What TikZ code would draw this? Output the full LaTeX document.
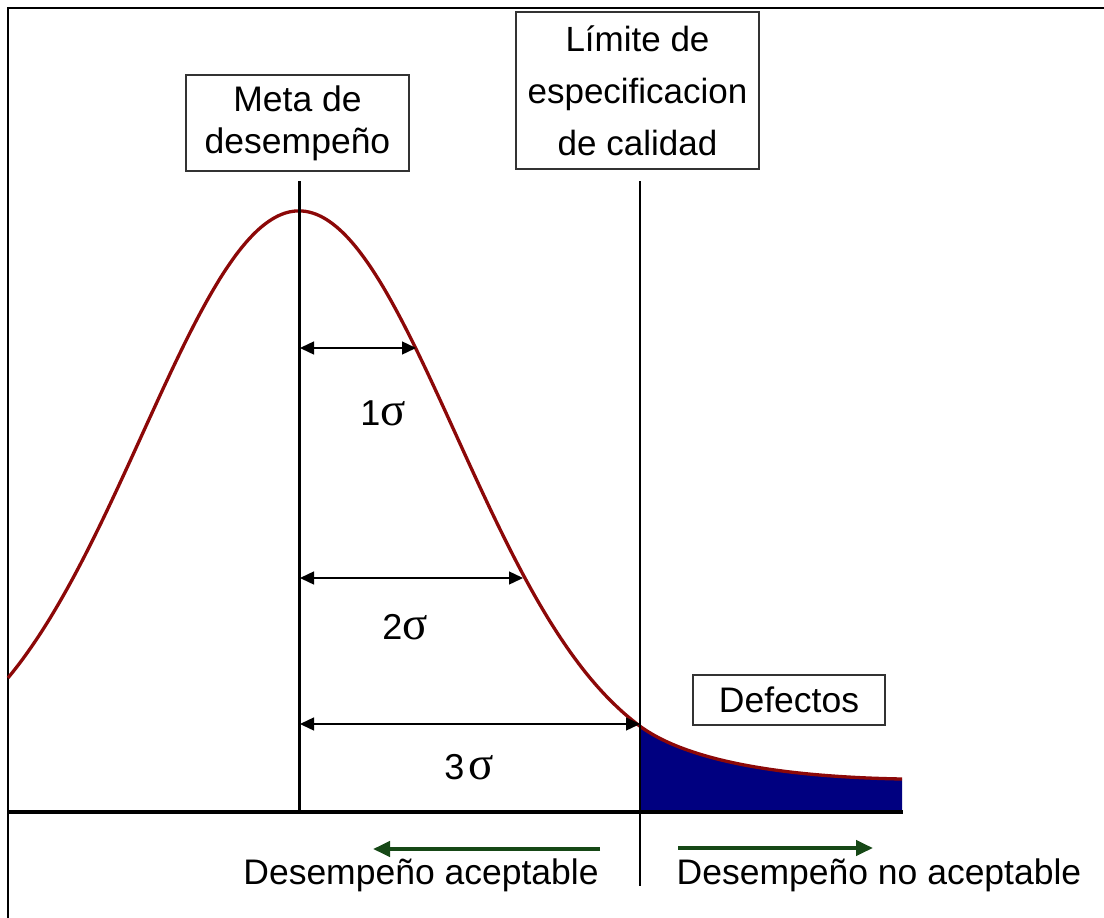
\documentclass[tikz,border=0pt]{standalone}
\usepackage{fontspec}
\setmainfont{Liberation Sans}
\newfontfamily\greekfont{Liberation Serif}
\usetikzlibrary{arrows.meta}
\definecolor{curvered}{RGB}{140,8,8}
\definecolor{defnavy}{RGB}{0,0,128}
\definecolor{arrgreen}{RGB}{22,72,22}
\tikzset{
  labelbox/.style={draw=black!80, line width=1.3pt, fill=white, inner sep=0pt, align=center, font=\fontsize{35.5}{42}\selectfont},
  sigmalabel/.style={anchor=base, inner sep=0pt, font=\fontsize{36}{42}\selectfont},
  dimarrow/.style={line width=1.4pt, {Triangle[length=14pt,width=13pt]}-{Triangle[length=14pt,width=13pt]}},
  bigarrow/.style={arrgreen, line width=4pt, -{Triangle[length=17pt,width=15pt]}},
  bottomtext/.style={anchor=base, inner sep=0pt, font=\fontsize{35.5}{42}\selectfont},
}
\newcommand{\sig}{{\greekfont\fontsize{47}{42}\selectfont σ}}
\begin{document}
\begin{tikzpicture}[x=1pt,y=-1pt]
\useasboundingbox (0,0) rectangle (1104,918);
\fill[white] (0,0) rectangle (1104,918);
% frame (left and top)
\draw[line width=2pt] (8,918) -- (8,8) -- (1104,8);

% defect area
\fill[defnavy] (640,812) -- (640,726) .. controls (690,763) and (790,777) .. (902,779) -- (902,812) -- cycle;

% curve
\draw[curvered, line width=3.3pt, line join=round]
  plot[domain=-1.8535:2.172, samples=120, smooth] ({299+157*\x},{780-569*exp(-0.5*\x*\x)})
  .. controls (690,763) and (790,777) .. (902,779);

% axis
\coordinate (axL) at (8,812);
\coordinate (axR) at (903,812);
\draw[line width=4pt] (axL) -- (axR);

% vertical lines
\coordinate (mTop) at (299,181);
\coordinate (mBot) at (299,812);
\coordinate (lTop) at (640,181);
\coordinate (lBot) at (640,886);
\draw[line width=3pt] (mTop) -- (mBot);
\draw[line width=1.3pt] (lTop) -- (lBot);

% sigma dimension arrows
\coordinate (s1a) at (300,348); \coordinate (s1b) at (416,348);
\coordinate (s2a) at (300,578); \coordinate (s2b) at (523,578);
\coordinate (s3a) at (300,724); \coordinate (s3b) at (640,724);
\draw[dimarrow] (s1a) -- (s1b);
\draw[dimarrow] (s2a) -- (s2b);
\draw[dimarrow] (s3a) -- (s3b);

\node[sigmalabel] (sg1) at (383,425) {1\sig};
\node[sigmalabel] (sg2) at (405,639) {2\sig};
\node[sigmalabel] (sg3) at (469,779) {3\kern4pt\sig};

% boxes
\node[labelbox, minimum width=223pt, minimum height=96pt] (meta) at (297.5,123) {Meta de\\desempeño};
\node[labelbox, minimum width=243pt, minimum height=157pt, font=\fontsize{35}{52}\selectfont] (lim) at (637.5,90.5) {Límite de\\especificacion\\de calidad};
\node[labelbox, minimum width=192pt, minimum height=50pt] (def) at (789,700) {Defectos};

% bottom arrows and labels
\coordinate (gLs) at (600,849); \coordinate (gLe) at (373,849);
\coordinate (gRs) at (678,848); \coordinate (gRe) at (873,848);
\draw[bigarrow] (gLs) -- (gLe);
\draw[bigarrow] (gRs) -- (gRe);
\node[bottomtext] (acc) at (421,884) {Desempeño aceptable};
\node[bottomtext] (nacc) at (879,884) {Desempeño no aceptable};
\end{tikzpicture}
\end{document}
